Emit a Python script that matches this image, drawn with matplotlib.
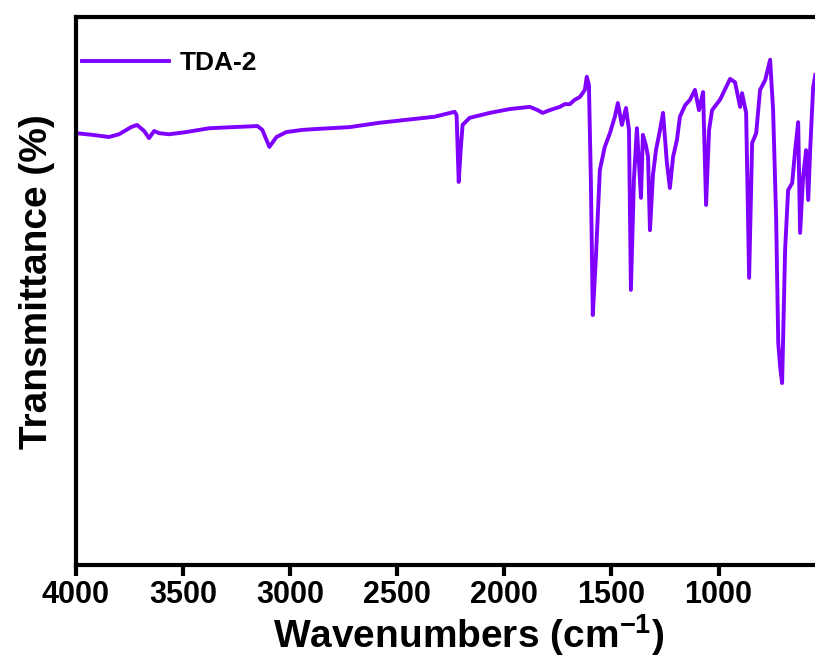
import matplotlib
matplotlib.use("Agg")
import matplotlib.pyplot as plt

plt.rcParams['font.family'] = ['Liberation Sans', 'DejaVu Sans']
plt.rcParams['font.weight'] = 'bold'
plt.rcParams['mathtext.fontset'] = 'custom'
plt.rcParams['mathtext.rm'] = 'Liberation Sans:bold'
plt.rcParams['mathtext.bf'] = 'Liberation Sans:bold'
plt.rcParams['mathtext.it'] = 'Liberation Sans:bold'
plt.rcParams['mathtext.default'] = 'bf'

# Wavenumbers (cm^-1) and transmittance (%)
wavenumber = [4000, 3925, 3846, 3799, 3743, 3715, 3682, 3659, 3635, 3612,
              3565, 3486, 3378, 3270, 3153, 3130, 3097, 3064, 3018, 2943,
              2863, 2723, 2583, 2466, 2326, 2232, 2223, 2213, 2204, 2195,
              2162, 2068, 1975, 1881, 1844, 1821, 1788, 1741, 1718, 1694,
              1671, 1647, 1624, 1615, 1605, 1596, 1587, 1573, 1554, 1531,
              1507, 1484, 1470, 1451, 1432, 1418, 1409, 1395, 1381, 1362,
              1353, 1339, 1329, 1320, 1306, 1292, 1273, 1259, 1241, 1227,
              1212, 1194, 1180, 1156, 1133, 1110, 1091, 1072, 1058, 1044,
              1030, 993, 946, 923, 899, 890, 871, 857, 843, 824,
              806, 782, 759, 745, 731, 721, 712, 703, 689, 675,
              656, 642, 628, 619, 605, 591, 581, 572, 558, 548]
transmittance = [78.8, 78.5, 78.1, 78.6, 79.9, 80.3, 79.2, 77.9, 79.2, 78.8,
                 78.6, 79.0, 79.7, 79.9, 80.1, 79.4, 76.3, 78.1, 79.0, 79.4,
                 79.6, 79.9, 80.7, 81.2, 81.8, 82.7, 82.1, 69.9, 75.7, 80.3,
                 81.6, 82.5, 83.2, 83.6, 83.0, 82.5, 83.0, 83.6, 84.1, 84.1,
                 84.9, 85.4, 86.7, 89.1, 87.6, 70.3, 45.6, 55.7, 72.1, 76.3,
                 78.8, 81.8, 84.3, 80.3, 83.4, 79.4, 50.2, 70.3, 79.7, 67.0,
                 78.5, 76.6, 74.5, 61.1, 71.2, 75.7, 79.4, 82.5, 73.4, 68.8,
                 74.5, 77.6, 81.8, 83.9, 84.9, 86.7, 83.0, 86.3, 65.7, 79.4,
                 83.0, 84.9, 88.7, 88.1, 83.6, 86.1, 82.5, 52.4, 77.0, 78.8,
                 86.7, 88.5, 92.2, 83.0, 63.5, 40.5, 36.1, 33.2, 57.5, 68.4,
                 69.7, 75.7, 80.8, 60.6, 70.8, 75.7, 66.6, 75.7, 87.2, 89.4]
series_label = "TDA-2"
xticks = [4000, 3500, 3000, 2500, 2000, 1500, 1000]

W, H = 815, 660
fig = plt.figure(figsize=(W / 100, H / 100), dpi=100)
left, right, top, bottom = 76, 847, 17, 565
ax = fig.add_axes([left / W, 1 - bottom / H, (right - left) / W, (bottom - top) / H])

ax.plot(wavenumber, transmittance, color='#8000FF', lw=2.8, label=series_label,
        solid_joinstyle='round')

ax.set_xlim(4000, 400)
ax.set_ylim(0, 100)
ax.set_xticks(xticks)
ax.set_xticklabels([str(t) for t in xticks])
ax.set_yticks([])

for s in ax.spines.values():
    s.set_linewidth(3)
ax.tick_params(axis='x', direction='out', length=8, width=3, labelsize=22, pad=3)
for lbl in ax.get_xticklabels():
    lbl.set_fontweight('bold')

ax.set_xlabel('Wavenumbers (cm$^{-1}$)', fontsize=28, fontweight='bold')
ax.xaxis.set_label_coords((469 - left) / (right - left), -(612 - bottom) / (bottom - top))
ax.xaxis.label.set_va('top')
ax.set_ylabel('Transmittance (%)', fontsize=28, fontweight='bold')
ax.yaxis.set_label_coords((55 - left) / (right - left), (bottom - 282) / (bottom - top))

leg = ax.legend(loc='upper left', frameon=False, fontsize=19, handlelength=3.3,
                handletextpad=0.4, borderpad=0, borderaxespad=0,
                bbox_to_anchor=(6 / (right - left), (bottom - 51) / (bottom - top)))
for t in leg.get_texts():
    t.set_fontweight('bold')

fig.savefig('out.png', dpi=100)
